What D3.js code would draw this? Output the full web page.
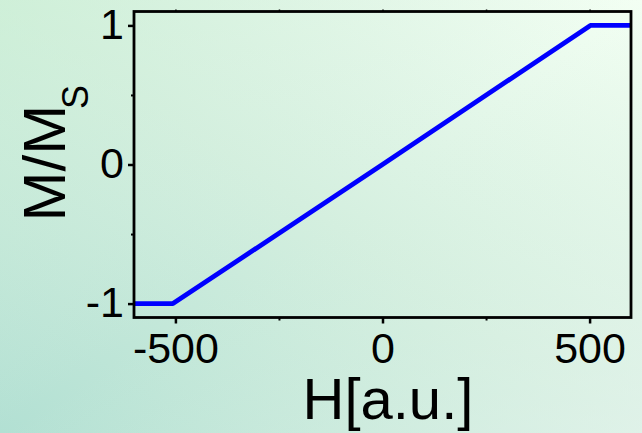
<!DOCTYPE html>
<html>
<head>
<meta charset="utf-8">
<script src="https://cdn.jsdelivr.net/npm/d3@7"></script>
<style>
  html, body { margin: 0; padding: 0; }
  svg { display: block; }
  text { font-family: "Liberation Sans", Arial, sans-serif; fill: #000; }
</style>
</head>
<body>
<svg id="chart" width="642" height="433"></svg>
<script>
// Data
const fieldH = [-600, -506, 0, 502, 600];
const magnetM = [-1, -1, 0, 1, 1];
const xMajorTicks = [-500, 0, 500];
const xMinorTicks = [-250, 250];
const yMajorTicks = [-1, 0, 1];
const yMinorTicks = [-0.5, 0.5];
const xTitle = "H[a.u.]";
const yTitleMain = "M/M";
const yTitleSub = "S";

(function () {
const svg = d3.select("#chart");
const W = 642, H = 433;
const pLeft = 134, pRight = 631, pTop = 11.5, pBottom = 317.5;

// Background gradient
const defs = svg.append("defs");
const g1 = defs.append("linearGradient").attr("id", "bg")
  .attr("x1", 0).attr("y1", 1).attr("x2", 1).attr("y2", 0);
g1.append("stop").attr("offset", 0).attr("stop-color", "#b2e0d3");
g1.append("stop").attr("offset", 0.5).attr("stop-color", "#d4efdf");
g1.append("stop").attr("offset", 1).attr("stop-color", "#f3fff3");
const g2 = defs.append("linearGradient").attr("id", "bg2")
  .attr("x1", 0).attr("y1", 0).attr("x2", 1).attr("y2", 1);
g2.append("stop").attr("offset", 0).attr("stop-color", "#c8f0d0").attr("stop-opacity", 0.45);
g2.append("stop").attr("offset", 0.5).attr("stop-color", "#d8f0e0").attr("stop-opacity", 0);
g2.append("stop").attr("offset", 1).attr("stop-color", "#e8f4f0").attr("stop-opacity", 0.55);
svg.append("rect").attr("width", W).attr("height", H).attr("fill", "url(#bg)");
svg.append("rect").attr("width", W).attr("height", H).attr("fill", "url(#bg2)");

const x = d3.scaleLinear().domain([-600, 600]).range([pLeft, pRight]);
const y = d3.scaleLinear().domain([-1.1, 1.1]).range([pBottom, pTop]);

// Bottom axis: major ticks
const xAxis = svg.append("g").attr("transform", `translate(0,${pBottom})`)
  .call(d3.axisBottom(x).tickValues(xMajorTicks).tickSize(6).tickFormat(d => String(d)));
xAxis.select(".domain").remove();
xAxis.selectAll(".tick line").attr("stroke", "#000").attr("stroke-width", 2.5);
xAxis.selectAll(".tick text").attr("y", 45.5).attr("dy", 0)
  .style("font-size", "43px").style("font-family", "'Liberation Sans', Arial, sans-serif");
// Bottom minor ticks
const xMinor = svg.append("g").attr("transform", `translate(0,${pBottom})`)
  .call(d3.axisBottom(x).tickValues(xMinorTicks).tickSize(3).tickFormat(""));
xMinor.select(".domain").remove();
xMinor.selectAll(".tick line").attr("stroke", "#000").attr("stroke-width", 2);
// Top small ticks
const xTop = svg.append("g").attr("transform", `translate(0,${pTop})`)
  .call(d3.axisTop(x).tickValues(xMajorTicks.concat(xMinorTicks)).tickSize(2).tickFormat(""));
xTop.select(".domain").remove();
xTop.selectAll(".tick line").attr("stroke", "#000").attr("stroke-width", 1.5);

// Left axis
const yAxis = svg.append("g").attr("transform", `translate(${pLeft},0)`)
  .call(d3.axisLeft(y).tickValues(yMajorTicks).tickSize(6).tickFormat(d => String(d)));
yAxis.select(".domain").remove();
yAxis.selectAll(".tick line").attr("stroke", "#000").attr("stroke-width", 2.5);
yAxis.selectAll(".tick text").attr("x", -10).attr("dy", 13)
  .style("font-size", "43px").style("font-family", "'Liberation Sans', Arial, sans-serif");
const yMinor = svg.append("g").attr("transform", `translate(${pLeft},0)`)
  .call(d3.axisLeft(y).tickValues(yMinorTicks).tickSize(3).tickFormat(""));
yMinor.select(".domain").remove();
yMinor.selectAll(".tick line").attr("stroke", "#000").attr("stroke-width", 2);

// Data line
const pts = fieldH.map((h, i) => [h, magnetM[i]]);
svg.append("path").datum(pts)
  .attr("fill", "none").attr("stroke", "#0000ff").attr("stroke-width", 4.8)
  .attr("stroke-linejoin", "round")
  .attr("d", d3.line().x(d => x(d[0])).y(d => y(d[1])));

// Frame
svg.append("rect").attr("x", pLeft).attr("y", pTop)
  .attr("width", pRight - pLeft).attr("height", pBottom - pTop)
  .attr("fill", "none").attr("stroke", "#000").attr("stroke-width", 2.8);

// X title
svg.append("text").attr("x", 302.5).attr("y", 419)
  .style("font-size", "58px").text(xTitle);

// Y title
const yt = svg.append("g").attr("transform", "translate(65,217) rotate(-90)");
yt.append("text").attr("x", -4.5).attr("y", 0)
  .style("font-size", "60px").text(yTitleMain);
yt.append("text").attr("x", 108).attr("y", 23)
  .style("font-size", "36px").text(yTitleSub);
})();
</script>
</body>
</html>
